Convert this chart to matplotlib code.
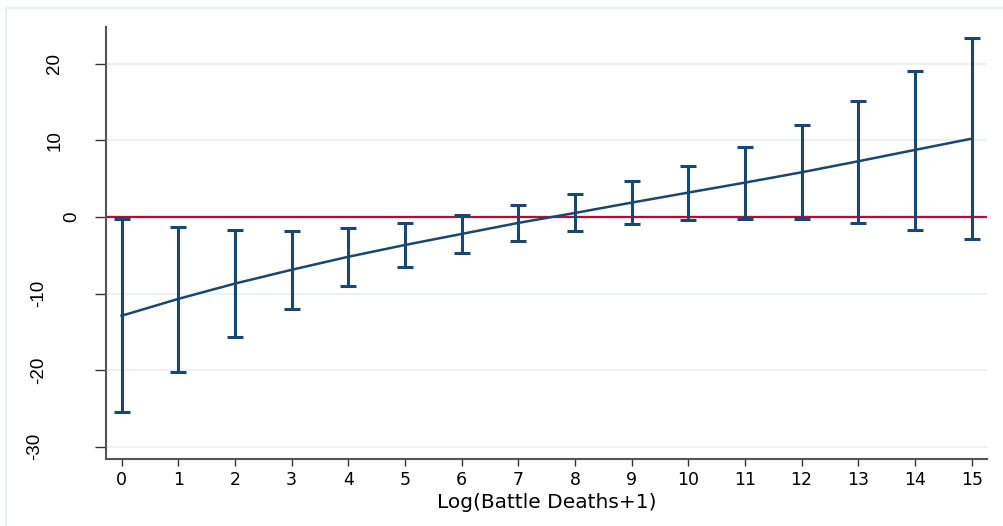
import matplotlib
matplotlib.use('Agg')
import matplotlib.pyplot as plt
import matplotlib.transforms as mtransforms
from matplotlib.patches import Rectangle

# marginal effect by log battle deaths, with 95% bounds
x_vals = [0, 1, 2, 3, 4, 5, 6, 7, 8, 9, 10, 11, 12, 13, 14, 15]
effect = [-12.9, -10.7, -8.7, -6.9, -5.2, -3.66, -2.22, -0.78,
          0.52, 1.87, 3.18, 4.48, 5.83, 7.27, 8.75, 10.22]
lower = [-25.5, -20.2, -15.7, -12.0, -9.0, -6.6, -4.66, -3.13,
         -1.83, -0.96, -0.44, -0.22, -0.30, -0.83, -1.7, -2.9]
upper = [-0.26, -1.26, -1.7, -1.79, -1.44, -0.74, 0.26, 1.52,
         2.96, 4.7, 6.7, 9.1, 12.0, 15.2, 19.06, 23.4]
y_ticks = [-30, -20, -10, 0, 10, 20]
# where each rotated y label sits horizontally (pixels), as in the original export
y_label_px = [35, 39, 39, 72, 55, 55]

plt.rcParams['font.family'] = ['DejaVu Sans']

fig = plt.figure(figsize=(10.04, 5.26), dpi=100)
# light outer frame like the Stata graph region
fig.patches.append(Rectangle((6 / 1004, -0.01), 1.1, 1 - 8 / 526 + 0.01,
                             transform=fig.transFigure, fill=False,
                             edgecolor='#e6ecee', linewidth=1.2))
ax = fig.add_axes([0.1053, 0.1274, 0.983 - 0.1053, 0.9487 - 0.1274])

navy = '#1a476f'
err_lo = [e - l for e, l in zip(effect, lower)]
err_hi = [u - e for e, u in zip(effect, upper)]
ax.errorbar(x_vals, effect, yerr=[err_lo, err_hi], fmt='none', ecolor=navy,
            elinewidth=2.2, capsize=5.5, capthick=2.2, zorder=3)
ax.plot(x_vals, effect, color=navy, linewidth=1.8, zorder=4)
ax.axhline(0, color='#c10534', linewidth=1.6, zorder=2)

ax.set_xlim(-0.28, 15.27)
ax.set_ylim(-31.6, 24.8)
ax.set_xticks(x_vals)
ax.set_yticks(y_ticks)
ax.set_yticklabels([])
ax.grid(axis='y', color='#eaf2f3', linewidth=1.5, zorder=0)
ax.set_axisbelow(True)

# rotated y tick labels
trans = mtransforms.blended_transform_factory(fig.transFigure, ax.transData)
for t, px in zip(y_ticks, y_label_px):
    ax.text(px / 1004, t, str(t), transform=trans, rotation=90,
            ha='center', va='center', fontsize=13.5,
            family=['Liberation Sans', 'DejaVu Sans'], clip_on=False)

for s in ['top', 'right']:
    ax.spines[s].set_visible(False)
for s in ['left', 'bottom']:
    ax.spines[s].set_color('#555555')
    ax.spines[s].set_linewidth(1.5)

ax.tick_params(axis='y', length=8, width=1, color='#333333')
ax.tick_params(axis='x', length=5, width=1, pad=4, labelsize=12.5, color='#333333')
ax.set_xlabel('Log(Battle Deaths+1)', fontsize=14.5, va='center')
ax.xaxis.set_label_coords(0.5, -0.101)

fig.savefig('out.png', dpi=100)
